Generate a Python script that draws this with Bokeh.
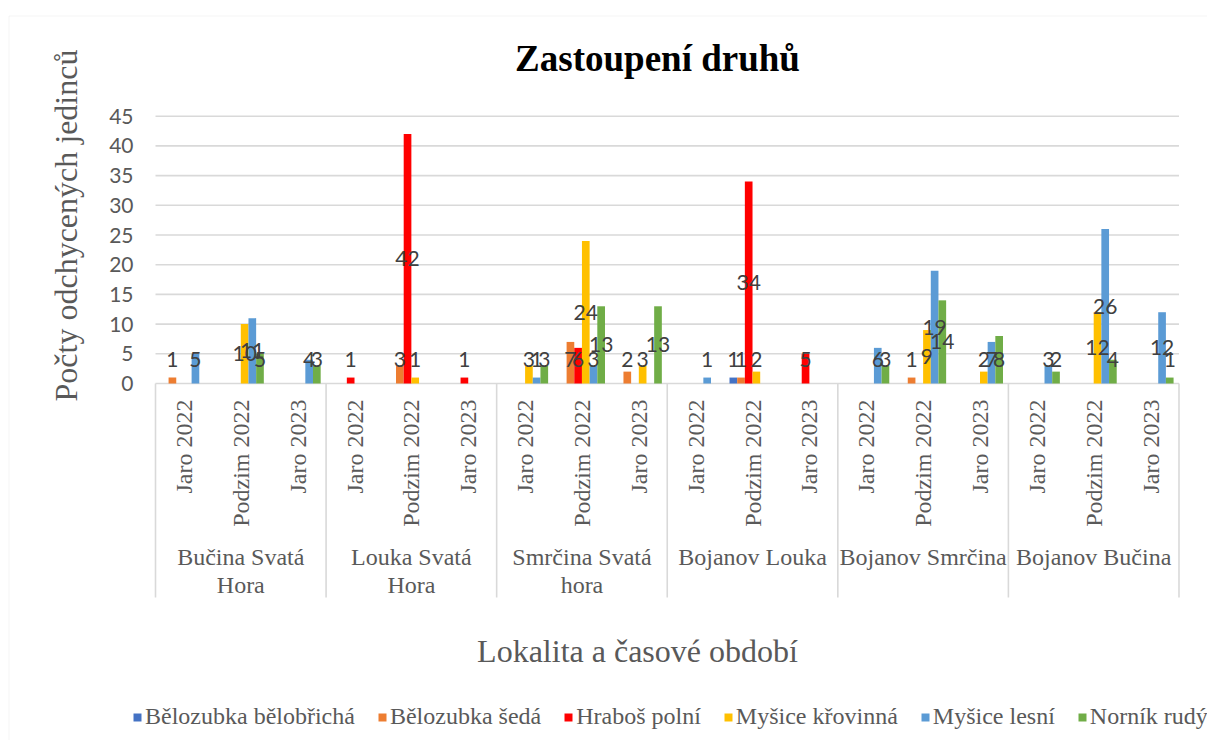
import numpy as np
from bokeh.plotting import figure
from bokeh.models import (Range1d, Legend, LegendItem, ColumnDataSource, BoxAnnotation)
from bokeh.core.properties import value
from bokeh.embed import file_html
from bokeh.resources import INLINE

# ---------------- data ----------------
locations = ["Bučina Svatá Hora", "Louka Svatá Hora", "Smrčina Svatá hora",
             "Bojanov Louka", "Bojanov Smrčina", "Bojanov Bučina"]
location_labels = ["Bučina Svatá\nHora", "Louka Svatá\nHora", "Smrčina Svatá\nhora",
                   "Bojanov Louka", "Bojanov Smrčina", "Bojanov Bučina"]
periods = ["Jaro 2022", "Podzim 2022", "Jaro 2023"]
series_names = ["Bělozubka bělobřichá", "Bělozubka šedá", "Hraboš polní",
                "Myšice křovinná", "Myšice lesní", "Norník rudý"]
series_colors = ["#4472C4", "#ED7D31", "#FF0000", "#FFC000", "#5B9BD5", "#70AD47"]
N = None
belozubka_belobricha = [N, N, N,  N, N, N,  N, N, N,  N, 1, N,  N, N, N,  N, N, N]
belozubka_seda       = [1, N, N,  N, 3, N,  N, 7, 2,  N, 1, N,  N, 1, N,  N, N, N]
hrabos_polni         = [N, N, N,  1, 42, 1, N, 6, N,  N, 34, 5, N, N, N,  N, N, N]
mysice_krovinna      = [N, 10, N, N, 1, N,  3, 24, 3, N, 2, N,  N, 9, 2,  N, 12, N]
mysice_lesni         = [5, 11, 4, N, N, N,  1, 3, N,  1, N, N,  6, 19, 7, 3, 26, 12]
nornik_rudy          = [N, 5, 3,  N, N, N,  3, 13, 13, N, N, N, 3, 14, 8,  2, 4, 1]
series_values = [belozubka_belobricha, belozubka_seda, hrabos_polni,
                 mysice_krovinna, mysice_lesni, nornik_rudy]
y_ticks = [0, 5, 10, 15, 20, 25, 30, 35, 40, 45]
title_text = "Zastoupení druhů"
y_title = "Počty odchycených jedinců"
x_title = "Lokalita a časové období"

# ---------------- layout (pixels -> data) ----------------
W, H = 1207, 740
X0, PXX = 155.0, 56.86      # px of x=0, px per category
Y0, PXY = 383.0, 5.94       # px of y=0, px per unit


def dx(px):
    return (px - X0) / PXX


def dy(py):
    return (Y0 - py) / PXY


p = figure(width=W, height=H, output_backend="svg", toolbar_location=None,
           x_range=Range1d(dx(0), dx(W)), y_range=Range1d(dy(H), dy(0)),
           x_axis_location=None, y_axis_location=None,
           min_border_left=0, min_border_right=0,
           min_border_top=0, min_border_bottom=0)
p.outline_line_color = None
p.grid.visible = False
p.background_fill_color = "white"
p.border_fill_color = "white"

n_cat = len(locations) * len(periods)
grid_col = "#d9d9d9"
txt_col = "#595959"
serif = value("Liberation Serif")

# chart area border
p.add_layout(BoxAnnotation(left=dx(8.5), right=dx(1400), top=dy(15.5), bottom=dy(900),
                           fill_alpha=0, line_color="#d9d9d9", line_width=1))

# gridlines
p.segment(x0=[0] * len(y_ticks), x1=[n_cat] * len(y_ticks), y0=y_ticks, y1=y_ticks,
          line_color=grid_col, line_width=1.6)

# y tick labels
p.text(x=[dx(133)] * len(y_ticks), y=y_ticks, text=[str(t) for t in y_ticks],
       text_align="right", text_baseline="middle", text_font=value("Lato"),
       text_font_size="21px", text_color=txt_col)

# category axis separators
sep_x = [3 * g for g in range(len(locations) + 1)]
p.segment(x0=sep_x, x1=sep_x, y0=[0] * len(sep_x), y1=[dy(597)] * len(sep_x),
          line_color=grid_col, line_width=1.6)

# period labels (rotated)
cat_x = [i + 0.5 for i in range(n_cat)]
cat_lbl = [periods[i % 3] for i in range(n_cat)]
p.text(x=cat_x, y=[dy(399)] * n_cat, text=cat_lbl, angle=np.pi / 2,
       text_align="right", text_baseline="middle",
       text_font=serif, text_font_size="24px", text_color=txt_col)

# location labels
p.text(x=[3 * g + 1.5 for g in range(len(locations))], y=[dy(543)] * len(locations),
       text=location_labels, text_align="center", text_baseline="top",
       text_font=serif, text_font_size="24px",
       text_color=txt_col, text_line_height=1.08)

# bars
BW = 0.135
legend_items = []
lx, ly, lt = [], [], []
for j, (name, col, vals) in enumerate(zip(series_names, series_colors, series_values)):
    xs, tops = [], []
    for c, v in enumerate(vals):
        if v is None:
            continue
        xs.append(c + 0.5 + (j - 2.5) * BW)
        tops.append(v)
    src = ColumnDataSource(dict(x=xs, top=tops))
    r = p.vbar(x="x", top="top", bottom=0, width=BW, source=src,
               fill_color=col, line_color=None)
    legend_items.append(LegendItem(label=name, renderers=[r]))
    lx += xs
    ly += [max(t / 2.0, 4.1) for t in tops]
    lt += [str(t) for t in tops]

# data labels
p.text(x=lx, y=ly, text=lt, text_align="center", text_baseline="middle",
       text_font=value("Lato"), text_font_size="21px", text_color="#404040")

# title
p.text(x=[dx(657)], y=[dy(58)], text=[title_text], text_align="center",
       text_baseline="middle", text_font=serif,
       text_font_style="bold", text_font_size="37px", text_color="#000000")

# x axis title
p.text(x=[dx(637)], y=[dy(650)], text=[x_title], text_align="center",
       text_baseline="middle", text_font=serif,
       text_font_size="32px", text_color=txt_col)

# y axis title
p.text(x=[dx(65)], y=[dy(225)], text=[y_title], angle=np.pi / 2,
       text_align="center", text_baseline="alphabetic",
       text_font=serif, text_font_size="32px", text_color=txt_col)

legend = Legend(items=legend_items, orientation="horizontal", location=(132, 10),
                glyph_width=10, glyph_height=10, label_standoff=3, spacing=22,
                padding=0, margin=0, border_line_color=None,
                background_fill_alpha=0,
                label_text_font="Liberation Serif", label_text_font_size="24px",
                label_text_color=txt_col)
p.add_layout(legend)

open("out.html", "w").write(file_html(p, INLINE))
